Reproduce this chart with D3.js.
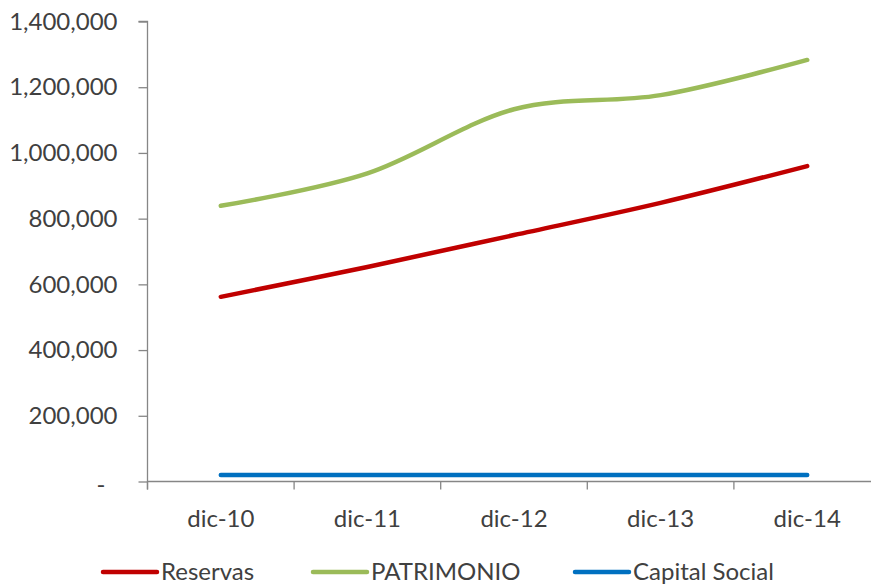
<!DOCTYPE html>
<html>
<head>
<meta charset="utf-8">
<script src="https://cdn.jsdelivr.net/npm/d3@7"></script>
<style>
  html, body { margin: 0; padding: 0; background: #ffffff; }
  svg { display: block; }
  text { font-family: Lato, "Open Sans", sans-serif; fill: #404040; }
</style>
</head>
<body>
<svg id="chart" width="871" height="584"></svg>
<script>
// Categories (year-end periods)
const categories = ["dic-10", "dic-11", "dic-12", "dic-13", "dic-14"];

// Series values
const reservas = [562000, 653000, 750000, 848000, 960000];
const patrimonio = [839000, 938000, 1133000, 1176000, 1283000];
const capitalSocial = [20000, 20000, 20000, 20000, 20000];

// Y tick values
const yTicks = [0, 200000, 400000, 600000, 800000, 1000000, 1200000, 1400000];

const seriesNames = ["Reservas", "PATRIMONIO", "Capital Social"];
const seriesColors = ["#C00000", "#9BBB59", "#0070C0"];
const seriesData = [reservas, patrimonio, capitalSocial];

const svg = d3.select("#chart");
const axisColor = "#868686";
const fontSize = "24px";

const x = d3.scaleBand().domain(categories).range([147.5, 880.5]);
const y = d3.scaleLinear().domain([0, 1400000]).range([481.5, 21.5]);

// Y axis
const fmt = d3.format(",");
const yAxis = d3.axisLeft(y)
  .tickValues(yTicks)
  .tickSize(9)
  .tickPadding(21)
  .tickFormat(d => d === 0 ? "-" : fmt(d));
const gy = svg.append("g").attr("transform", "translate(147.5,0)").call(yAxis);
gy.select(".domain").attr("stroke", axisColor).attr("stroke-width", 1.3)
  .attr("d", `M-9,${y(1400000)}H0V${y(0) + 8}`);
gy.selectAll(".tick line").attr("stroke", axisColor).attr("stroke-width", 1.3);
gy.selectAll(".tick text")
  .style("font-family", "Lato, 'Open Sans', sans-serif")
  .style("font-size", fontSize)
  .attr("fill", "#404040");
gy.selectAll(".tick").filter(d => d === 0).select("text")
  .attr("x", -42).attr("dy", "0.45em");

// X axis
const xAxis = d3.axisBottom(x).tickSize(0).tickPadding(28);
const gx = svg.append("g").attr("transform", `translate(0,${y(0)})`).call(xAxis);
gx.select(".domain").attr("stroke", axisColor).attr("stroke-width", 1.3)
  .attr("d", `M147.5,0H880.5`);
gx.selectAll(".tick text")
  .style("font-family", "Lato, 'Open Sans', sans-serif")
  .style("font-size", fontSize)
  .attr("fill", "#404040");
// Boundary tick marks between categories
const bounds = categories.map(c => x(c));
gx.selectAll(".bound").data(bounds).enter().append("line")
  .attr("x1", d => d).attr("x2", d => d)
  .attr("y1", 0).attr("y2", 8)
  .attr("stroke", axisColor).attr("stroke-width", 1.3);

// Smoothed series lines
const line = d3.line()
  .x((d, i) => x(categories[i]) + x.bandwidth() / 2)
  .y(d => y(d))
  .curve(d3.curveCardinal.tension(0));

svg.append("g").selectAll("path.series")
  .data(seriesData)
  .enter().append("path")
  .attr("class", "series")
  .attr("d", d => line(d))
  .attr("fill", "none")
  .attr("stroke", (d, i) => seriesColors[i])
  .attr("stroke-width", 4.5)
  .attr("stroke-linecap", "round")
  .attr("stroke-linejoin", "round");

// Legend
const legendX = [103, 313, 575];
const legend = svg.append("g").attr("transform", "translate(0,572)");
const items = legend.selectAll("g.item").data(seriesNames).enter()
  .append("g").attr("class", "item")
  .attr("transform", (d, i) => `translate(${legendX[i]},0)`);
items.append("line")
  .attr("x1", 0).attr("x2", 54).attr("y1", 0).attr("y2", 0)
  .attr("stroke", (d, i) => seriesColors[i])
  .attr("stroke-width", 4.5)
  .attr("stroke-linecap", "round");
items.append("text")
  .attr("x", 58).attr("y", 8)
  .style("font-size", fontSize)
  .text(d => d);
</script>
</body>
</html>
